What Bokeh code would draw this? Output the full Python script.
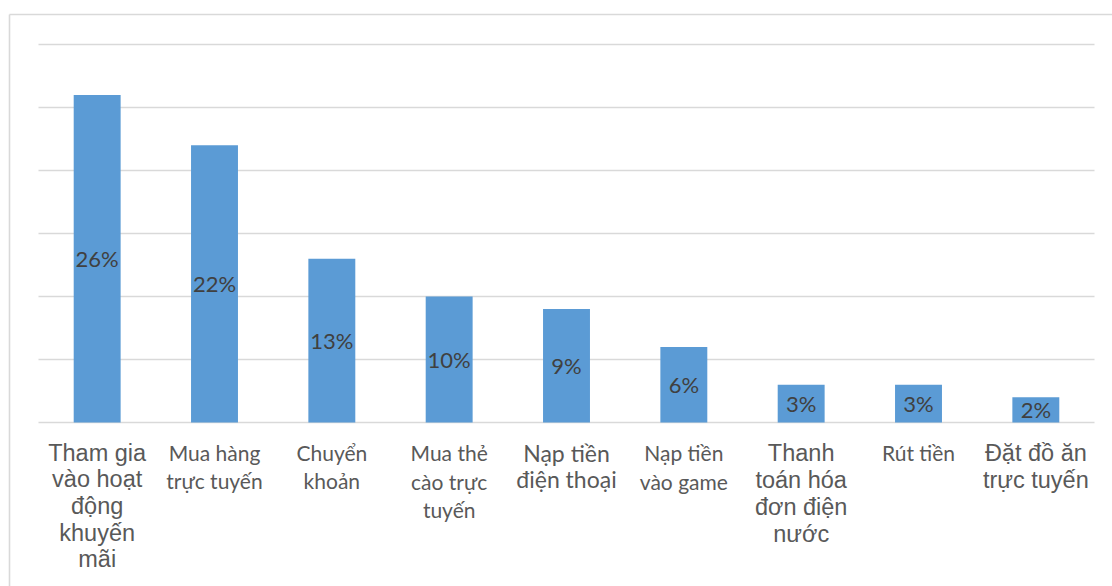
from bokeh.plotting import figure
from bokeh.models import ColumnDataSource, Range1d
from bokeh.core.properties import value
from bokeh.embed import file_html
from bokeh.resources import INLINE

# ---- data -------------------------------------------------------------
categories = [
    "Tham gia vào hoạt động khuyến mãi",
    "Mua hàng trực tuyến",
    "Chuyển khoản",
    "Mua thẻ cào trực tuyến",
    "Nạp tiền điện thoại",
    "Nạp tiền vào game",
    "Thanh toán hóa đơn điện nước",
    "Rút tiền",
    "Đặt đồ ăn trực tuyến",
]
shares = [26, 22, 13, 10, 9, 6, 3, 3, 2]

# wrapped category text, one list of lines per category
label_lines = [
    ["Tham gia", "vào hoạt", "động", "khuyến", "mãi"],
    ["Mua hàng", "trực tuyến"],
    ["Chuyển", "khoản"],
    ["Mua thẻ", "cào trực", "tuyến"],
    ["Nạp tiền", "điện thoại"],
    ["Nạp tiền", "vào game"],
    ["Thanh", "toán hóa", "đơn điện", "nước"],
    ["Rút tiền"],
    ["Đặt đồ ăn", "trực tuyến"],
]
grid_values = [0, 5, 10, 15, 20, 25, 30]

# ---- styling of the category text --------------------------------------
SANS = "Liberation Sans"
HUM = "Lato"
label_fonts = [SANS, HUM, HUM, HUM, HUM, HUM, SANS, HUM, SANS]
label_sizes = [23.5, 21, 21, 21, 23, 21, 23.5, 21, 23.5]
line_steps = [26.7, 28, 28, 28.5, 26.5, 28.5, 27.3, 28, 27]
FIRST_BASELINE = 30  # px below the zero line

# ---- layout (pixels) ----------------------------------------------------
W, H = 1112, 586
PLOT_L, PLOT_R = 38, 1094     # horizontal extent of the category band
ZERO_Y, TOP_Y = 422, 44       # pixel rows of 0 % and 30 %
BOX_L, BOX_T = 9, 14          # outer chart border

n = len(categories)
xs = (PLOT_R - PLOT_L) / n                  # px per category
ys = (ZERO_Y - TOP_Y) / grid_values[-1]     # px per percent

p = figure(
    width=W, height=H,
    x_range=Range1d(-PLOT_L / xs, n + (W - PLOT_R) / xs),
    y_range=Range1d(-(H - ZERO_Y) / ys, ZERO_Y / ys),
    output_backend="svg", toolbar_location=None,
    x_axis_type=None, y_axis_type=None,
    min_border=0,
)
p.background_fill_color = "white"
p.border_fill_color = "white"
p.outline_line_color = None
p.grid.visible = False

# outer border (left and top edges)
bx = (BOX_L - PLOT_L) / xs
by = (ZERO_Y - BOX_T) / ys
p.segment(x0=[bx, bx], y0=[by, by], x1=[p.x_range.end + 1, bx],
          y1=[by, p.y_range.start - 1],
          line_color="#d9d9d9", line_width=1.6)

# horizontal grid lines
p.segment(x0=[0] * len(grid_values), y0=grid_values,
          x1=[n] * len(grid_values), y1=grid_values,
          line_color="#d9d9d9", line_width=1.6)

centers = [i + 0.5 for i in range(n)]
bars = ColumnDataSource(dict(
    x=centers,
    share=shares,
    mid=[s / 2 for s in shares],
    txt=[f"{s}%" for s in shares],
))
p.vbar(x="x", top="share", width=0.4, source=bars,
       fill_color="#5b9bd5", line_color=None)

p.text(x="x", y="mid", text="txt", source=bars,
       text_align="center", text_baseline="middle",
       text_font=value(HUM), text_font_size="22px", text_color="#404040")

# category text below the zero line, one row per text line
rows = dict(x=[], y=[], txt=[], font=[], size=[])
for cx, lines, font, size, step in zip(centers, label_lines,
                                       label_fonts, label_sizes, line_steps):
    for i, line in enumerate(lines):
        rows["x"].append(cx)
        rows["y"].append(-(FIRST_BASELINE + i * step) / ys)
        rows["txt"].append(line)
        rows["font"].append(font)
        rows["size"].append(f"{size}px")
p.text(x="x", y="y", text="txt", source=ColumnDataSource(rows),
       text_align="center", text_baseline="alphabetic",
       text_font="font", text_font_size="size", text_color="#595959")

open("out.html", "w").write(file_html(p, INLINE))
